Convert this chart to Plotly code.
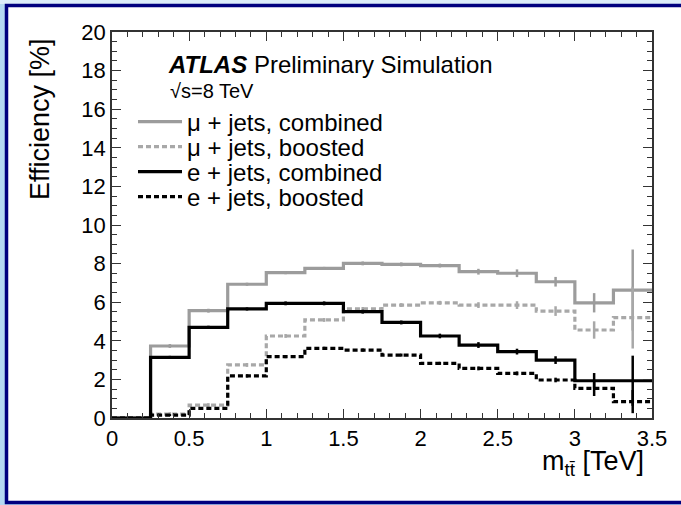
import plotly.graph_objects as go

# bin edges of m_tt [TeV]
edges = [0.0, 0.25, 0.5, 0.75, 1.0, 1.25, 1.5, 1.75, 2.0, 2.25, 2.5, 2.75, 3.0, 3.25, 3.5]

mu_comb = [0, 3.73, 5.56, 6.93, 7.53, 7.75, 8.01, 7.96, 7.90, 7.58, 7.50, 7.06, 5.97, 6.63]
mu_comb_err = [0, 0.1, 0.1, 0.08, 0.08, 0.08, 0.1, 0.1, 0.1, 0.15, 0.2, 0.25, 0.5, 2.1]
mu_boost = [0, 0.2, 0.67, 2.75, 4.25, 5.08, 5.65, 5.85, 5.97, 5.85, 5.85, 5.54, 4.56, 5.2]
mu_boost_err = [0, 0.1, 0.1, 0.1, 0.1, 0.1, 0.1, 0.1, 0.1, 0.15, 0.2, 0.25, 0.45, 1.6]
e_comb = [0, 3.14, 4.70, 5.65, 5.94, 5.94, 5.51, 4.95, 4.25, 3.78, 3.44, 3.0, 1.93, 1.93]
e_comb_err = [0, 0.08, 0.08, 0.08, 0.1, 0.1, 0.1, 0.1, 0.12, 0.15, 0.15, 0.2, 0.4, 1.3]
e_boost = [0, 0.15, 0.5, 2.18, 3.18, 3.61, 3.52, 3.26, 2.83, 2.57, 2.31, 1.97, 1.54, 0.85]
e_boost_err = [0, 0.05, 0.06, 0.08, 0.08, 0.08, 0.08, 0.08, 0.08, 0.1, 0.1, 0.12, 0.4, 0.6]

series = [
    ("\u03bc + jets, combined", mu_comb, mu_comb_err, "#9c9c9c", "solid"),
    ("\u03bc + jets, boosted", mu_boost, mu_boost_err, "#a8a8a8", "5px,3px"),
    ("e + jets, combined", e_comb, e_comb_err, "#000000", "solid"),
    ("e + jets, boosted", e_boost, e_boost_err, "#000000", "5px,3px"),
]
legend_rows = [122, 147, 172, 197]   # pixel row of each legend entry
legend_ids = ["legend", "legend2", "legend3", "legend4"]

FONT = "Liberation Sans, Arial, Helvetica, sans-serif"
centers = [(edges[i] + edges[i + 1]) / 2 for i in range(len(edges) - 1)]

L, R, T, B = 112, 29, 32, 87
W, H = 681, 505
pw, ph = W - L - R, H - T - B
px = lambda p: (p - L) / pw
py = lambda p: (H - B - p) / ph

fig = go.Figure()
for (name, vals, errs, col, dash), lid in zip(series, legend_ids):
    fig.add_trace(go.Scatter(
        x=edges, y=list(vals) + [vals[-1]], mode="lines", name=name, legend=lid,
        line=dict(shape="hv", color=col, width=3.2, dash=dash),
    ))
    fig.add_trace(go.Scatter(
        x=centers[1:], y=vals[1:], mode="markers", showlegend=False,
        marker=dict(size=1, color=col, opacity=0),
        error_y=dict(type="data", array=errs[1:], color=col, thickness=2.5, width=0),
    ))

axis_common = dict(
    showline=True, linecolor="#333333", linewidth=1.5, mirror="ticks",
    ticks="inside", ticklen=9, tickwidth=1.3, tickcolor="#333333",
    showgrid=False, zeroline=False,
    tickfont=dict(family=FONT, size=22, color="black"),
)

fig.update_xaxes(range=[0, 3.5], dtick=0.5, tick0=0,
                 minor=dict(dtick=0.1, ticks="inside", ticklen=5, tickcolor="#333333", showgrid=False),
                 **axis_common)
fig.update_yaxes(range=[0, 20], dtick=2, tick0=0,
                 minor=dict(dtick=0.5, ticks="inside", ticklen=5, tickcolor="#333333", showgrid=False),
                 **axis_common)

legends = {}
for lid, row in zip(legend_ids, legend_rows):
    legends[lid] = dict(x=px(133), y=py(row), xanchor="left", yanchor="middle",
                        bgcolor="rgba(0,0,0,0)", borderwidth=0,
                        font=dict(family=FONT, size=24, color="black"),
                        itemwidth=44)

fig.update_layout(
    width=W, height=H,
    margin=dict(l=L, r=R, t=T, b=B, pad=0),
    paper_bgcolor="#b5d9f2", plot_bgcolor="white",
    font=dict(family=FONT, color="black"),
    **legends,
    shapes=[
        dict(type="rect", xref="paper", yref="paper", layer="below",
             x0=px(-5), x1=px(690), y0=py(-5), y1=py(4), fillcolor="#dcedfa", line=dict(width=0)),
        dict(type="rect", xref="paper", yref="paper", layer="below",
             x0=px(6.5), x1=px(695), y0=py(502.5), y1=py(5.5),
             fillcolor="white", line=dict(color="#00007f", width=3.5)),
    ],
    annotations=[
        dict(text="<b><i>ATLAS</i></b> Preliminary Simulation", xref="paper", yref="paper",
             x=px(166), y=py(65), xanchor="left", yanchor="middle", showarrow=False,
             font=dict(family=FONT, size=24, color="black")),
        dict(text="\u221as=8 TeV", xref="paper", yref="paper",
             x=px(168), y=py(91), xanchor="left", yanchor="middle", showarrow=False,
             font=dict(family=FONT, size=20, color="black")),
        dict(text="Efficiency [%]", xref="paper", yref="paper", textangle=-90,
             x=px(40), y=py(36), xanchor="center", yanchor="top", showarrow=False,
             font=dict(family=FONT, size=27, color="black")),
        dict(text="m<sub>tt\u0304</sub> [TeV]", xref="paper", yref="paper",
             x=px(646), y=py(463), xanchor="right", yanchor="middle", showarrow=False,
             font=dict(family=FONT, size=27, color="black")),
    ],
)

fig.write_html("out.html")
